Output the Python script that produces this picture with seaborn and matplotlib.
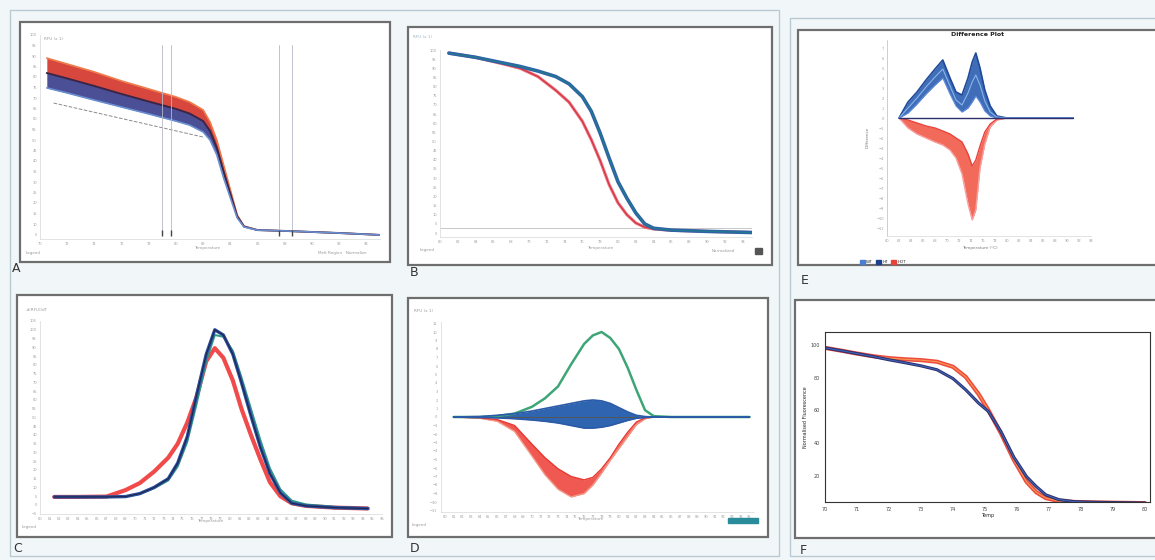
import matplotlib
matplotlib.use("Agg")
import matplotlib.pyplot as plt
from matplotlib.patches import Rectangle, Patch
from matplotlib.ticker import MultipleLocator
import seaborn as sns

# ---- panel A: raw melt curves (RFU vs temperature)
a_temp = [70.5, 72, 74, 76, 78, 80, 81, 82, 82.5, 83, 83.5, 84, 84.5, 85, 86, 88, 90, 92, 95]
a_red = [89.0, 86.2, 82.4, 78.1, 74.3, 70.5, 68.1, 64.3, 58.6, 50.0, 38.1, 26.2, 14.3, 9.0, 7.1, 6.7, 6.2, 5.7, 4.8]
a_mid = [81.9, 79.3, 75.7, 71.9, 68.3, 64.8, 62.6, 59.0, 54.3, 46.4, 35.0, 24.3, 13.6, 8.8, 7.1, 6.7, 6.2, 5.7, 4.8]
a_blue = [74.8, 72.4, 69.0, 65.7, 62.4, 59.0, 57.1, 53.8, 50.0, 42.9, 31.9, 22.4, 12.9, 8.6, 7.1, 6.7, 6.2, 5.7, 4.8]
a_base_t = [71.0, 82.0]
a_base_y = [67.6, 51.4]
a_cursors = [79.0, 79.6, 87.6, 88.5]

# ---- panel B: normalised melt curves
b_temp = [61, 64, 67, 69, 71, 73, 74.5, 76, 77, 78, 79, 80, 81, 82, 83, 84, 86, 90, 95]
b_blue = [98.3, 96, 93, 91, 88.5, 85.5, 81.5, 74.5, 66.5, 54.5, 41, 28, 19, 11, 5, 2.6, 1.6, 0.9, 0.3]
b_red = [98.3, 96, 92.5, 90, 85.5, 78, 71.5, 61, 51, 39.5, 26.5, 16.5, 10, 5.5, 3.2, 2.2, 1.5, 0.9, 0.3]
b_threshold = 2.7

# ---- panel C: derivative melt peaks
c_temp = [61.5, 64, 67, 69, 70.5, 72, 73.5, 74.5, 75.5, 76.5, 77.5, 78.4, 79.3, 80.3,
          81.2, 82.2, 83.2, 84.2, 85.3, 86.5, 88, 91, 94.5]
c_blue = [4.6, 4.6, 4.6, 4.8, 6.5, 10, 15, 24, 39, 63, 86, 100, 97, 86, 70, 51, 33, 18, 7, 1, -0.5, -1.5, -2]
c_teal = [4.6, 4.6, 4.6, 4.8, 6.3, 9.5, 14, 22, 36, 58, 82, 97, 96, 88, 73, 55, 37, 21, 9, 2.5, 0.3, -1, -2]
c_red = [4.6, 4.6, 4.8, 8.5, 12.5, 19, 27, 35, 47, 62, 82, 89.5, 84, 71, 55, 40, 26, 13, 5, 1, -0.5, -1.5, -2]

# ---- panel D: difference curves
d_temp = [61, 64, 66, 68, 70, 71.5, 73, 74.5, 76, 77, 78, 79, 80, 81, 82, 83, 84, 86, 90, 95]
d_green = [0, 0, 0.1, 0.4, 1.2, 2.2, 3.6, 6.2, 8.6, 9.6, 10.0, 9.3, 8.0, 5.8, 3.2, 0.8, 0.1, 0, 0, 0]
d_blue_hi = [0, 0.05, 0.2, 0.4, 0.7, 1.0, 1.3, 1.6, 1.9, 2.0, 1.9, 1.6, 1.1, 0.6, 0.2, 0.05, 0, 0, 0, 0]
d_blue_lo = [0, -0.05, -0.1, -0.2, -0.35, -0.5, -0.7, -1.0, -1.3, -1.3, -1.2, -1.0, -0.7, -0.4, -0.15, -0.05, 0, 0, 0, 0]
d_red_hi = [0, -0.1, -0.3, -1.0, -3.2, -4.8, -6.1, -7.0, -7.4, -7.1, -6.1, -4.8, -3.2, -1.8, -0.6, -0.1, 0, 0, 0, 0]
d_red_lo = [0, -0.15, -0.5, -1.7, -4.6, -6.8, -8.5, -9.4, -9.0, -8.0, -6.6, -5.1, -3.7, -2.3, -0.9, -0.2, 0, 0, 0, 0]

# ---- panel E: difference plot
e_temp = [62, 63.5, 65, 66.5, 68, 69.3, 70.5, 71.5, 72.5, 73.5, 74.2, 74.8, 75.5, 76.3, 77.2, 78.3, 80, 84, 88, 91]
e_blue_hi = [0, 1.6, 2.6, 3.8, 4.9, 5.8, 4.0, 2.6, 2.3, 4.0, 5.6, 6.5, 5.0, 2.8, 1.2, 0.2, 0, 0, 0, 0]
e_blue_mid = [0, 1.0, 2.0, 3.1, 4.1, 4.9, 3.2, 1.8, 1.3, 2.5, 3.6, 4.3, 3.3, 1.7, 0.6, 0.1, 0, 0, 0, 0]
e_blue_lo = [0, 0.5, 1.4, 2.4, 3.3, 4.0, 2.4, 1.2, 0.6, 1.0, 1.6, 2.2, 1.6, 0.7, 0.2, 0, 0, 0, 0, 0]
e_red_hi = [0, -0.2, -0.5, -0.8, -1.0, -1.3, -1.6, -2.0, -2.4, -3.6, -4.8, -4.2, -2.8, -1.4, -0.6, -0.1, 0, 0, 0, 0]
e_red_lo = [0, -1.0, -1.6, -2.0, -2.4, -2.7, -3.2, -4.0, -5.6, -8.6, -10.2, -9.2, -5.0, -2.6, -0.9, -0.2, 0, 0, 0, 0]
e_groups = ["WT", "HT", "HOT"]
e_colors = ["#4a7fd0", "#1f3f8f", "#e8423a"]

# ---- panel F: normalised fluorescence
f_temp = [70, 70.5, 71, 71.5, 72, 72.5, 73, 73.5, 74, 74.4, 74.8, 75.1, 75.5, 75.9, 76.3, 76.6,
          76.9, 77.3, 77.8, 78.5, 79.2, 80]
f_dark = [98.3, 96.6, 94.8, 93, 91, 89.2, 87.3, 84.9, 79.5, 72.6, 64.5, 59.5, 47, 31.5, 19.5, 13.5,
          8.4, 5.5, 4.2, 3.8, 3.6, 3.4]
f_red = [98.3, 96.6, 94.8, 93.2, 92, 91.3, 90.8, 89.8, 86.7, 80.5, 70, 60.4, 46, 29.8, 16.3, 10,
         6.4, 4.6, 4.0, 3.7, 3.5, 3.3]
f_yticks = [20, 40, 60, 80, 100]

W, H = 1155, 560
sns.set_style("white")
plt.rcParams["font.family"] = ["DejaVu Sans"]

fig = plt.figure(figsize=(W / 100, H / 100), dpi=100, facecolor="#f1f7f9")


def frame(l, t, r, b, edge, lw, face=None):
    fig.add_artist(Rectangle((l / W, 1 - b / H), (r - l) / W, (b - t) / H,
                             transform=fig.transFigure, fill=face is not None,
                             facecolor=face, edgecolor=edge, lw=lw, zorder=-1))


def px_axes(l, t, r, b):
    return fig.add_axes([l / W, 1 - b / H, (r - l) / W, (b - t) / H])


def ftext(x, y, s, **kw):
    kw.setdefault("fontsize", 3)
    kw.setdefault("color", "#9a9a9a")
    fig.text(x / W, 1 - y / H, s, **kw)


def soft(ax, xlim, ylim, xstep, ystep):
    ax.set_xlim(*xlim)
    ax.set_ylim(*ylim)
    ax.xaxis.set_major_locator(MultipleLocator(xstep))
    ax.yaxis.set_major_locator(MultipleLocator(ystep))
    ax.tick_params(labelsize=2.6, colors="#a0a0a0", length=1.2, width=0.4, pad=1)
    for s in ("top", "right"):
        ax.spines[s].set_visible(False)
    for s in ("left", "bottom"):
        ax.spines[s].set_color("#d8d8d8")
        ax.spines[s].set_linewidth(0.5)
    ax.set_facecolor("none")
    ax.set_xlabel("")
    ax.set_ylabel("")


# outer boxes and panel frames
frame(10, 10, 779, 556, "#b9cad2", 1.0)
frame(790, 18, 1160, 556, "#b9cad2", 1.0)
frame(20, 22, 390, 262, "#6e6e6e", 1.6, "white")
frame(408, 27, 772, 265, "#6e6e6e", 1.6, "white")
frame(17, 295, 392, 537, "#6e6e6e", 1.6, "white")
frame(408, 298, 768, 537, "#6e6e6e", 1.6, "white")
frame(798, 30, 1162, 265, "#6e6e6e", 1.6, "white")
frame(795, 300, 1162, 538, "#6e6e6e", 1.6, "white")

for x, y, s in [(12, 268, "A"), (410, 272, "B"), (13, 548, "C"),
                (410, 549, "D"), (801, 281, "E"), (800, 551, "F")]:
    ftext(x, y, s, fontsize=9, color="#333333", va="center")

# ---- A
ax = px_axes(40, 35, 380, 238.7)
ax.fill_between(a_temp, a_mid, a_red, color="#d8473e", lw=0)
ax.fill_between(a_temp, a_blue, a_mid, color="#4a4f96", lw=0)
sns.lineplot(x=a_temp, y=a_red, ax=ax, color="#f07a4a", lw=1.2)
sns.lineplot(x=a_temp, y=a_mid, ax=ax, color="#3a2448", lw=1.4)
sns.lineplot(x=a_temp, y=a_blue, ax=ax, color="#6a8fd0", lw=1.2)
sns.lineplot(x=a_base_t, y=a_base_y, ax=ax, color="#8a8a8a", lw=0.7, linestyle="--")
for c in a_cursors:
    ax.axvline(c, ymin=0.02, ymax=0.95, color="#b8b8c8", lw=0.6)
ax.plot(a_cursors, [5.5] * 4, ls="none", marker="|", ms=4, color="#444444")
soft(ax, (70, 95), (3, 100), 2, 5)
ftext(44, 40, "RFU (x 1)")
ftext(26, 254, "Legend")
ftext(207, 249, "Temperature", ha="center")
ftext(318, 254, "Melt Region   Normalize")

# ---- B
ax = px_axes(440, 50, 751.5, 236.7)
ax.axhline(b_threshold, color="#c8c8c8", lw=0.7)
sns.lineplot(x=b_temp, y=b_red, ax=ax, color="#f06a78", lw=2.2)
sns.lineplot(x=b_temp, y=b_red, ax=ax, color="#c8303c", lw=0.7)
sns.lineplot(x=b_temp, y=b_blue, ax=ax, color="#2f62a8", lw=2.6)
sns.lineplot(x=b_temp, y=b_blue, ax=ax, color="#1f7f86", lw=0.7)
soft(ax, (60, 95), (-2, 100), 2, 5)
ftext(413, 38, "RFU (x 1)", color="#9ab0c8")
ftext(600, 249, "Temperature", ha="center")
ftext(420, 251, "Legend")
ftext(712, 252, "Normalized")
fig.add_artist(Rectangle((755 / W, 1 - 254 / H), 7 / W, 6 / H, transform=fig.transFigure,
                         color="#555555", zorder=3))

# ---- C
ax = px_axes(40, 321, 382, 513.75)
sns.lineplot(x=c_temp, y=c_red, ax=ax, color="#f04a4a", lw=3.0)
sns.lineplot(x=c_temp, y=c_teal, ax=ax, color="#2a9a8a", lw=1.4)
sns.lineplot(x=c_temp, y=c_blue, ax=ax, color="#2d4f9c", lw=2.4)
sns.lineplot(x=c_temp, y=c_blue, ax=ax, color="#1c2550", lw=0.8)
soft(ax, (60, 96), (-5, 105), 1, 5)
ftext(26, 311, "-d(RFU)/dT")
ftext(210, 522, "Temperature", ha="center")
ftext(22, 528, "Legend")

# ---- D
ax = px_axes(440.6, 321.8, 753.8, 512.2)
ax.axhline(0, xmin=0.04, xmax=0.97, color="#555555", lw=0.7)
ax.fill_between(d_temp, d_red_lo, d_red_hi, color="#ef473f", lw=0, alpha=0.9)
sns.lineplot(x=d_temp, y=d_red_lo, ax=ax, color="#f49a88", lw=1.0)
sns.lineplot(x=d_temp, y=d_red_hi, ax=ax, color="#e8352e", lw=1.0)
sns.lineplot(x=d_temp, y=d_green, ax=ax, color="#3ea577", lw=1.8)
ax.fill_between(d_temp, d_blue_lo, d_blue_hi, color="#2f64b0", lw=0)
sns.lineplot(x=d_temp, y=d_blue_hi, ax=ax, color="#2a5aa8", lw=1.2)
sns.lineplot(x=d_temp, y=d_blue_lo, ax=ax, color="#2a5aa8", lw=1.2)
soft(ax, (59.5, 95.5), (-11.2, 11.2), 1, 1)
ftext(414, 312, "RFU (x 1)")
ftext(590, 520, "Temperature", ha="center")
ftext(412, 526, "Legend")
fig.add_artist(Rectangle((728 / W, 1 - 523 / H), 30 / W, 5 / H, transform=fig.transFigure,
                         color="#2a8c9a", zorder=3))

# ---- E
ax = px_axes(887, 40, 1091, 236)
ax.fill_between(e_temp, e_red_lo, e_red_hi, color="#f0503c", lw=0, alpha=0.85)
sns.lineplot(x=e_temp, y=e_red_lo, ax=ax, color="#f8a0a0", lw=1.0)
sns.lineplot(x=e_temp, y=e_red_hi, ax=ax, color="#e8423a", lw=1.0)
ax.fill_between(e_temp, e_blue_lo, e_blue_hi, color="#2a5db0", lw=0, alpha=0.9)
sns.lineplot(x=e_temp, y=e_blue_hi, ax=ax, color="#1f4a9a", lw=1.2)
sns.lineplot(x=e_temp, y=e_blue_mid, ax=ax, color="#8ab4ec", lw=0.8)
sns.lineplot(x=e_temp, y=e_blue_lo, ax=ax, color="#5a8ad8", lw=0.8)
ax.plot([e_temp[0], e_temp[-1]], [0, 0], color="#2b2f6b", lw=1.0)
soft(ax, (60, 94), (-11.8, 7.8), 2, 1)
ax.spines["left"].set_color("#bbbbbb")
ftext(978, 35, "Difference Plot", fontsize=4.5, color="#222222", weight="bold", ha="center", va="center")
ftext(980, 248, "Temperature (°C)", ha="center", va="center", color="#777777")
ftext(868, 137, "Difference", rotation=90, ha="center", va="center", color="#777777")
ax.legend(handles=[Patch(color=c, label=g) for g, c in zip(e_groups, e_colors)],
          loc="center left", bbox_to_anchor=(858 / W, 1 - 262 / H), bbox_transform=fig.transFigure,
          ncol=3, fontsize=3, frameon=False, handlelength=1.2, handleheight=1.0,
          handletextpad=0.3, columnspacing=0.8, borderpad=0)

# ---- F
ax = px_axes(825, 332, 1149.8, 502)
sns.lineplot(x=f_temp, y=f_red, ax=ax, color="#ee4a3e", lw=3.0)
sns.lineplot(x=f_temp, y=f_red, ax=ax, color="#f59a50", lw=0.8)
sns.lineplot(x=f_temp, y=f_dark, ax=ax, color="#2b2f6b", lw=2.2)
sns.lineplot(x=f_temp, y=f_dark, ax=ax, color="#3f63b8", lw=0.8)
ax.set_xlim(70, 80.15)
ax.set_ylim(4, 108)
ax.set_xticks(range(70, 81))
ax.set_yticks(f_yticks)
ax.tick_params(labelsize=3.5, colors="#444444", length=2, width=0.5, pad=1.5)
for s in ax.spines.values():
    s.set_color("#333333")
    s.set_linewidth(0.8)
ax.set_xlabel("Temp", fontsize=3.5, labelpad=1)
ax.set_ylabel("Normalised Fluorescence", fontsize=3.5, labelpad=2)

fig.savefig("out.png", dpi=100, facecolor=fig.get_facecolor())
